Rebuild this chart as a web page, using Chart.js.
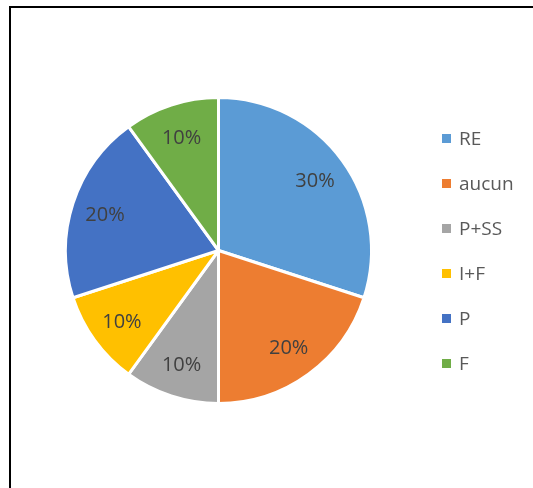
<!DOCTYPE html>
<html>
<head>
<meta charset="utf-8">
<script src="https://cdn.jsdelivr.net/npm/chart.js@4"></script>
<style>
    html, body { margin: 0; padding: 0; background: #fff; overflow: hidden; }
    #frame { position: absolute; left: 9px; top: 6px; width: 700px; height: 700px; border: 2px solid #000; background: #fff; }
    #wrap { position: absolute; left: 0; top: 0; width: 533px; height: 488px; }
</style>
</head>
<body>
<div id="frame"></div>
<div id="wrap"><canvas id="pie-chart"></canvas></div>
<script>
var labels = ["RE", "aucun", "P+SS", "I+F", "P", "F"];
var values = [30, 20, 10, 10, 20, 10];
var colors = ["#5B9BD5", "#ED7D31", "#A5A5A5", "#FFC000", "#4472C4", "#70AD47"];

// percent labels inside the slices
var sliceLabels = {
    id: "sliceLabels",
    afterDatasetsDraw: function (chart) {
        var ctx = chart.ctx;
        var total = values.reduce(function (a, b) { return a + b; }, 0);
        ctx.save();
        ctx.font = "20px 'Open Sans'";
        ctx.fillStyle = "#404040";
        ctx.textAlign = "center";
        ctx.textBaseline = "alphabetic";
        chart.getDatasetMeta(0).data.forEach(function (arc, i) {
            var mid = (arc.startAngle + arc.endAngle) / 2;
            var r = arc.outerRadius * 0.78;
            var x = arc.x + Math.cos(mid) * r;
            var y = arc.y + Math.sin(mid) * r;
            ctx.fillText(Math.round(values[i] / total * 100) + "%", x, y + 7);
        });
        ctx.restore();
    }
};

// legend on the right, one entry per slice
var sideLegend = {
    id: "sideLegend",
    afterDraw: function (chart) {
        var ctx = chart.ctx;
        ctx.save();
        ctx.font = "19px 'Open Sans'";
        ctx.textBaseline = "alphabetic";
        chart.data.labels.forEach(function (label, i) {
            var cy = 138.5 + i * 45;
            ctx.fillStyle = colors[i];
            ctx.fillRect(442, cy - 4.5, 9, 9);
            ctx.fillStyle = "#595959";
            ctx.fillText(label, 459, cy + 6.8);
        });
        ctx.restore();
    }
};

new Chart(document.getElementById("pie-chart"), {
    type: "pie",
    data: {
        labels: labels,
        datasets: [
            {
                data: values,
                backgroundColor: colors,
                borderColor: "#ffffff",
                borderWidth: 3,
                hoverOffset: 0,
                radius: 153,
            },
        ],
    },
    options: {
        responsive: true,
        maintainAspectRatio: false,
        animation: false,
        layout: {
            padding: { left: 60, right: 156, top: 90, bottom: 77 },
        },
        plugins: {
            legend: { display: false },
            tooltip: { enabled: false },
        },
    },
    plugins: [sliceLabels, sideLegend],
});
</script>
</body>
</html>
